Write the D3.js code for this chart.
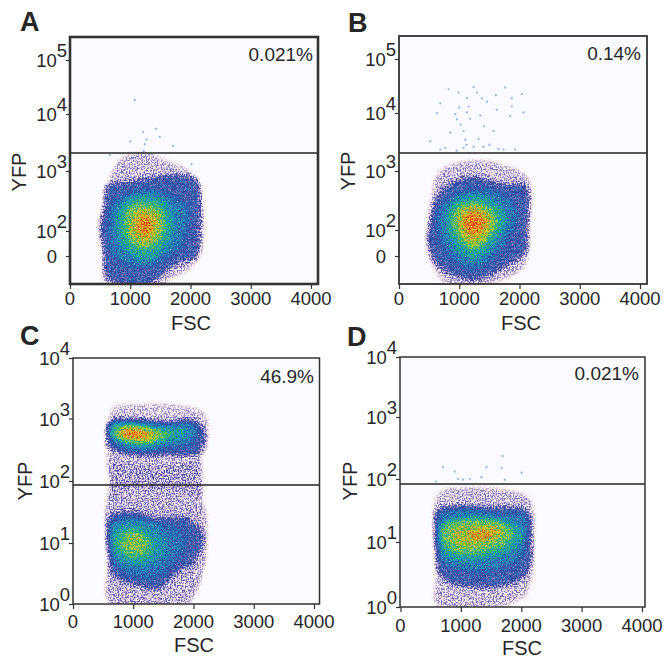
<!DOCTYPE html>
<html>
<head>
<meta charset="utf-8">
<script src="https://cdn.jsdelivr.net/npm/d3@7"></script>
<style>
  html, body { margin: 0; padding: 0; background: #fff; }
  svg { display: block; }
  text { font-family: "Liberation Sans", Arial, sans-serif; fill: #262626; }
</style>
</head>
<body>
<div id="chart"></div>
<script>
// x axis, shared by the four plots
const fscTicks = [0, 1000, 2000, 3000, 4000];

// y axis: position in decades, and the label (base + exponent) at that position
const yTicksAB = [1.58, 2, 3, 4, 5];
const yLabelsAB = [["0", ""], ["10", "2"], ["10", "3"], ["10", "4"], ["10", "5"]];
const yTicksCD = [0, 1, 2, 3, 4];
const yLabelsCD = [["10", "0"], ["10", "1"], ["10", "2"], ["10", "3"], ["10", "4"]];

const percents = ["0.021%", "0.14%", "46.9%", "0.021%"];
const letters = ["A", "B", "C", "D"];

// density levels, one per outline of a blob
const levelsAB = [0.1, 0.3, 0.42, 0.52, 0.64, 0.76, 0.9];
const levelsCTop = [0.09, 0.3, 0.42, 0.52, 0.64, 0.76, 0.87];
const levelsBridge = [0.14];
const levelsCLow = [0.12, 0.3, 0.4, 0.48, 0.57, 0.67];
const levelsD = [0.1, 0.3, 0.42, 0.52, 0.63, 0.73, 0.83];

// each outline is [FSC, decades]
const blobA = [
  [[800,3.2],[1200,3.35],[1600,3.2],[2000,3.0],[2150,2.7],[2200,1.7],[2000,1.35],[1700,1.2],[1500,1.08],[600,1.08],[540,1.6],[500,2.1],[580,2.6]],
  [[600,2.75],[1050,2.83],[1600,2.92],[2100,2.86],[2170,2.52],[2150,1.96],[2100,1.57],[1770,1.46],[1600,1.32],[1270,1.1],[880,1.1],[600,1.24],[560,1.62],[500,2.07],[580,2.46]],
  [[750,2.5],[1200,2.68],[1650,2.6],[1950,2.4],[1950,2.05],[1800,1.7],[1600,1.55],[1250,1.38],[900,1.45],[680,1.65],[650,2.1]],
  [[880,2.48],[1240,2.6],[1600,2.48],[1720,2.15],[1620,1.75],[1240,1.52],[900,1.68],[760,2.1]],
  [[960,2.38],[1240,2.48],[1500,2.38],[1580,2.12],[1480,1.82],[1240,1.68],[1000,1.8],[900,2.1]],
  [[1060,2.3],[1240,2.36],[1430,2.3],[1490,2.1],[1410,1.88],[1240,1.8],[1080,1.88],[1000,2.1]],
  [[1150,2.2],[1240,2.24],[1320,2.2],[1340,2.08],[1300,1.98],[1230,1.92],[1160,1.98],[1130,2.08]]
];

const blobB = [
  [[650,3.0],[1200,3.2],[1800,3.1],[2150,2.9],[2170,2.0],[2100,1.4],[1700,1.15],[1300,1.08],[800,1.08],[550,1.4],[470,1.8],[520,2.5]],
  [[630,2.56],[850,2.78],[1240,2.9],[1700,2.78],[2120,2.73],[2130,2.1],[2100,1.66],[1735,1.39],[1240,1.17],[685,1.39],[490,1.72],[510,2.11]],
  [[760,2.5],[1240,2.68],[1750,2.58],[1950,2.3],[1800,1.85],[1500,1.5],[1240,1.37],[950,1.48],[680,1.85],[640,2.2]],
  [[850,2.42],[1240,2.58],[1640,2.45],[1780,2.2],[1600,1.8],[1240,1.52],[950,1.7],[780,2.05]],
  [[950,2.38],[1240,2.48],[1550,2.35],[1640,2.15],[1480,1.85],[1240,1.68],[1030,1.82],[880,2.15]],
  [[1020,2.32],[1240,2.4],[1450,2.32],[1555,2.1],[1400,1.85],[1240,1.76],[1080,1.88],[970,2.12]],
  [[1130,2.25],[1260,2.3],[1380,2.22],[1420,2.1],[1340,1.98],[1230,1.92],[1130,2.0],[1080,2.1]]
];

const blobCTop = [
  [[650,3.2],[1100,3.25],[1700,3.25],[2200,3.1],[2250,2.7],[2150,2.4],[600,2.4],[600,3.0]],
  [[600,2.95],[1000,3.0],[1500,2.95],[2000,2.98],[2180,2.8],[2100,2.45],[1700,2.42],[1300,2.4],[900,2.42],[600,2.55]],
  [[620,2.93],[1100,2.95],[1600,2.92],[1950,2.92],[2080,2.8],[1950,2.6],[1500,2.52],[1100,2.48],[700,2.58],[610,2.7]],
  [[640,2.88],[1050,2.92],[1500,2.85],[1850,2.82],[1900,2.72],[1600,2.65],[1250,2.55],[850,2.6],[640,2.72]],
  [[680,2.84],[1000,2.88],[1350,2.84],[1620,2.75],[1500,2.68],[1200,2.6],[850,2.64],[660,2.72]],
  [[800,2.84],[1050,2.86],[1300,2.8],[1420,2.72],[1200,2.64],[950,2.66],[760,2.74]],
  [[850,2.83],[1050,2.83],[1200,2.76],[1220,2.7],[1050,2.68],[880,2.7],[800,2.76]]
];

// the thin part between the two populations of C
const bridgeC = [[[600,2.5],[1300,2.5],[2050,2.5],[2150,2.0],[2100,1.6],[1300,1.6],[600,1.6],[600,2.0]]];

const blobCLow = [
  [[600,1.7],[2100,1.7],[2230,1.0],[2100,0.3],[1900,0.0],[600,0.0],[600,0.8]],
  [[600,1.42],[1000,1.5],[1400,1.4],[1900,1.4],[2150,1.1],[2000,0.7],[1700,0.5],[1400,0.25],[1100,0.3],[650,0.5],[600,0.9]],
  [[620,1.32],[1000,1.42],[1500,1.3],[1800,1.2],[1850,0.9],[1600,0.6],[1300,0.42],[800,0.55],[620,0.75]],
  [[650,1.25],[1000,1.35],[1300,1.25],[1550,1.05],[1500,0.8],[1200,0.6],[800,0.68],[640,0.9]],
  [[750,1.18],[1050,1.25],[1280,1.12],[1350,0.9],[1150,0.72],[850,0.75],[700,0.95]],
  [[850,1.1],[1050,1.16],[1200,1.03],[1200,0.88],[1020,0.82],[850,0.9]]
];

const blobD = [
  [[620,1.78],[1100,1.88],[1700,1.85],[2150,1.7],[2200,1.0],[2100,0.2],[1700,0.0],[600,0.0],[590,0.6]],
  [[600,1.5],[1000,1.58],[1500,1.55],[2100,1.5],[2170,1.1],[2120,0.55],[1800,0.35],[1300,0.3],[800,0.38],[620,0.55],[600,1.0]],
  [[640,1.4],[1100,1.52],[1600,1.45],[2070,1.4],[2080,1.0],[1950,0.72],[1300,0.55],[800,0.62],[630,0.8]],
  [[680,1.3],[1200,1.4],[1800,1.32],[2030,1.15],[1900,0.88],[1300,0.72],[800,0.75],[640,1.0]],
  [[750,1.27],[1250,1.36],[1800,1.25],[1850,1.05],[1600,0.9],[1150,0.82],[780,0.9],[680,1.08]],
  [[900,1.2],[1300,1.28],[1700,1.22],[1700,1.1],[1400,0.98],[1050,0.92],[830,1.05]],
  [[1150,1.15],[1400,1.2],[1600,1.14],[1500,1.06],[1300,1.03],[1150,1.05]]
];

// single events above the gate, [FSC, decades]
const eventsA = [[1075,4.26],[1213,3.68],[1003,3.52],[1424,3.74],[1490,3.6],[1241,3.47],[1712,3.44],[1269,3.55],[1224,3.35],[660,3.28],[1047,3.23],[2017,3.12]];
const eventsB = [[823,4.44],[989,4.38],[1238,4.48],[1608,4.33],[1873,4.27],[2039,4.35],[1762,4.47],[1127,4.28],[1293,4.38],[1376,4.27],[1459,4.21],[685,4.18],[630,4.0],[934,3.98],[961,3.89],[1155,4.12],[1127,4.01],[1348,3.96],[1414,3.77],[1873,4.12],[2066,4.01],[1845,3.95],[1624,4.06],[1072,3.69],[1099,3.54],[1238,3.42],[768,3.4],[1403,3.42],[1735,3.37],[1928,3.37],[519,3.51],[685,3.37],[1569,3.69],[1072,3.4],[1155,3.31],[851,3.66],[1000,4.1],[1020,3.8],[1180,3.9],[1320,3.55],[1500,3.45],[1650,3.38],[1120,3.45],[960,3.35]];
const eventsC = [];
const eventsD = [[704,2.19],[898,2.12],[953,2.0],[1424,2.19],[1690,2.37],[2006,2.1],[1673,2.18],[1729,1.99],[1341,2.03],[1036,1.99],[1147,2.0],[593,1.96]];

// colour table of the density
const densityPos = [0, 0.05, 0.1, 0.16, 0.24, 0.34, 0.42, 0.5, 0.58, 0.66, 0.74, 0.84, 0.93, 1];
const densityCol = ["#fcfcff", "#fbf3fa", "#e6c4e0", "#9a90cc", "#3a3f98", "#2a55a8", "#2478bc", "#1ea0c0", "#20b080", "#60c040", "#d8d820", "#f0a020", "#ee6020", "#e03020"];

// how much grain each density gets
const grainPos = [0, 0.05, 0.1, 0.3, 0.5, 0.7, 1];
const grainAmt = [0, 0.08, 0.2, 0.24, 0.2, 0.28, 0.28];

// page layout of each plot
const layout = [
  { left: 70, right: 318, top: 37, bottom: 284, x0: 70, x4: 311, yPx: [256, 231, 171, 114, 60], frame: 2.6,
    gatePx: 153, letter: [20, 31], pct: [313, 60.5], yfp: [26, 172], fsc: [191, 330], tickY: 305 },
  { left: 399, right: 647, top: 36, bottom: 284, x0: 399, x4: 640, yPx: [256, 230, 171, 113, 59], frame: 1.8,
    gatePx: 153, letter: [348, 32], pct: [641, 60], yfp: [355, 171], fsc: [521, 330], tickY: 305 },
  { left: 73, right: 319.5, top: 358, bottom: 604, x0: 73, x4: 314, yPx: [604, 543, 481, 418.5, 358], frame: 1.5,
    gatePx: 485, letter: [20, 345], pct: [314, 383], yfp: [32, 481], fsc: [194, 652], tickY: 628 },
  { left: 400, right: 645, top: 357, bottom: 607, x0: 400.5, x4: 642, yPx: [607, 542, 479, 417, 357], frame: 1.5,
    gatePx: 484, letter: [347, 346], pct: [639, 380], yfp: [357, 481], fsc: [522, 654.5], tickY: 632 }
];

const plots = [
  { ticks: yTicksAB, labels: yLabelsAB, blobs: [[blobA, levelsAB]], events: eventsA },
  { ticks: yTicksAB, labels: yLabelsAB, blobs: [[blobB, levelsAB]], events: eventsB },
  { ticks: yTicksCD, labels: yLabelsCD, blobs: [[bridgeC, levelsBridge], [blobCTop, levelsCTop], [blobCLow, levelsCLow]], events: eventsC },
  { ticks: yTicksCD, labels: yLabelsCD, blobs: [[blobD, levelsD]], events: eventsD }
];

const svg = d3.select("#chart").append("svg").attr("width", 664).attr("height", 659);
const defs = svg.append("defs");

// sample the colour table for the filter
const densityScale = d3.scaleLinear().domain(densityPos).range(densityCol);
const table = d3.range(0, 41).map(i => d3.rgb(densityScale(i / 40)));
const tableOf = ch => table.map(c => (c[ch] / 255).toFixed(3)).join(" ");

const grainScale = d3.scaleLinear().domain(grainPos).range(grainAmt);
const inputs = d3.range(0, 41).map(i => i / 40);
const ampTable = inputs.map(b => grainScale(b).toFixed(3)).join(" ");
const baseTable = inputs.map(b => Math.max(0, b - grainScale(b) / 2).toFixed(3)).join(" ");

const allChannels = "1 0 0 0 0  1 0 0 0 0  1 0 0 0 0  0 0 0 0 1";

plots.forEach((p, i) => {
  const L = layout[i];
  const g = svg.append("g");

  const x = d3.scaleLinear().domain([0, 4000]).range([L.x0, L.x4]);

  // decades are not evenly spread on these axes, so go through the ticks
  const step = (L.yPx[1] - L.yPx[2]) / (p.ticks[2] - p.ticks[1]);
  const yBottom = p.ticks[0] - (L.bottom - L.yPx[0]) / step;
  const yTop = p.ticks[4] + (L.yPx[4] - L.top) / step;
  const y = d3.scaleLinear()
    .domain([yBottom, ...p.ticks, yTop])
    .range([L.bottom, ...L.yPx, L.top]);

  const w = L.right - L.left, h = L.bottom - L.top;

  const clipId = "clip" + i, filtId = "dens" + i;
  defs.append("clipPath").attr("id", clipId).append("rect")
    .attr("x", L.left).attr("y", L.top).attr("width", w).attr("height", h);

  const f = defs.append("filter").attr("id", filtId)
    .attr("filterUnits", "userSpaceOnUse")
    .attr("x", L.left).attr("y", L.top).attr("width", w).attr("height", h)
    .attr("color-interpolation-filters", "sRGB");
  f.append("feGaussianBlur").attr("in", "SourceGraphic").attr("stdDeviation", 2.6).attr("result", "b0");
  f.append("feColorMatrix").attr("in", "b0").attr("type", "matrix")
    .attr("values", allChannels).attr("result", "b");

  const addTable = (values, result) => {
    const c = f.append("feComponentTransfer").attr("in", "b").attr("result", result);
    ["feFuncR", "feFuncG", "feFuncB"].forEach(fn =>
      c.append(fn).attr("type", "table").attr("tableValues", values));
  };
  addTable(baseTable, "base");
  addTable(ampTable, "amp");

  f.append("feTurbulence").attr("type", "fractalNoise").attr("baseFrequency", 0.75)
    .attr("numOctaves", 2).attr("seed", 3 + i * 5).attr("result", "t");
  f.append("feColorMatrix").attr("in", "t").attr("type", "matrix")
    .attr("values", allChannels).attr("result", "t1");
  const st = f.append("feComponentTransfer").attr("in", "t1").attr("result", "n");
  ["feFuncR", "feFuncG", "feFuncB"].forEach(fn =>
    st.append(fn).attr("type", "linear").attr("slope", 4).attr("intercept", -1.5));

  f.append("feComposite").attr("in", "amp").attr("in2", "n").attr("operator", "arithmetic")
    .attr("k1", 1).attr("k2", 0).attr("k3", 0).attr("k4", 0).attr("result", "grain");
  f.append("feComposite").attr("in", "base").attr("in2", "grain").attr("operator", "arithmetic")
    .attr("k1", 0).attr("k2", 1).attr("k3", 1).attr("k4", 0).attr("result", "m");
  f.append("feGaussianBlur").attr("in", "m").attr("stdDeviation", 0.45).attr("result", "s");
  f.append("feColorMatrix").attr("in", "s").attr("type", "matrix")
    .attr("values", allChannels).attr("result", "g");
  const ct = f.append("feComponentTransfer").attr("in", "g");
  ct.append("feFuncR").attr("type", "table").attr("tableValues", tableOf("r"));
  ct.append("feFuncG").attr("type", "table").attr("tableValues", tableOf("g"));
  ct.append("feFuncB").attr("type", "table").attr("tableValues", tableOf("b"));

  const line = d3.line().x(d => x(d[0])).y(d => y(d[1])).curve(d3.curveCatmullRomClosed);

  const clipped = g.append("g").attr("clip-path", `url(#${clipId})`);
  const dens = clipped.append("g").attr("filter", `url(#${filtId})`);
  // black is zero density, keeps the whole plot inside the filter
  dens.append("rect").attr("x", L.left - 10).attr("y", L.top - 10)
    .attr("width", w + 20).attr("height", h + 20).attr("fill", "#000");

  p.blobs.forEach(([blob, lv]) => {
    dens.append("g").selectAll("path").data(blob).enter().append("path")
      .attr("d", line)
      .attr("fill", (d, k) => {
        const v = Math.round(lv[k] * 255);
        return `rgb(${v},${v},${v})`;
      });
  });

  clipped.append("g").selectAll("circle").data(p.events).enter().append("circle")
    .attr("cx", d => x(d[0])).attr("cy", d => y(d[1]))
    .attr("r", 1.1).attr("fill", "#5f97dc").attr("fill-opacity", 0.7);

  // gate line
  g.append("line").attr("x1", L.left).attr("x2", L.right)
    .attr("y1", L.gatePx).attr("y2", L.gatePx)
    .attr("stroke", "#222").attr("stroke-width", 1.3);

  // frame
  g.append("rect").attr("x", L.left).attr("y", L.top).attr("width", w).attr("height", h)
    .attr("fill", "none").attr("stroke", "#333").attr("stroke-width", L.frame);

  // axes
  const xAxis = g.append("g").attr("transform", `translate(0,${L.bottom})`)
    .call(d3.axisBottom(x).tickValues(fscTicks).tickSize(5).tickPadding(0).tickFormat(""));
  xAxis.select(".domain").remove();
  xAxis.selectAll("line").attr("stroke", "#333").attr("stroke-width", 1.2);
  xAxis.selectAll("text").remove();
  g.append("g").selectAll("text").data(fscTicks).enter().append("text")
    .attr("x", d => x(d)).attr("y", L.tickY)
    .attr("text-anchor", "middle").attr("font-size", 18.5)
    .text(d => d);

  const yAxis = g.append("g").attr("transform", `translate(${L.left},0)`)
    .call(d3.axisLeft(y).tickValues(p.ticks).tickSize(4).tickFormat(""));
  yAxis.select(".domain").remove();
  yAxis.selectAll("line").attr("stroke", "#333").attr("stroke-width", 1.2);
  yAxis.selectAll("text").remove();

  const yLab = g.append("g").selectAll("text").data(p.ticks).enter().append("text")
    .attr("x", (d, k) => L.left - (p.labels[k][1] ? 3 : 13)).attr("y", d => y(d) + 7)
    .attr("text-anchor", "end").attr("font-size", 18.5);
  yLab.append("tspan").text((d, k) => p.labels[k][0]);
  yLab.append("tspan").attr("dy", -10).text((d, k) => p.labels[k][1]);

  g.append("text").attr("x", L.letter[0]).attr("y", L.letter[1])
    .attr("font-size", 27).attr("font-weight", "bold").attr("fill", "#111").text(letters[i]);
  g.append("text").attr("x", L.pct[0]).attr("y", L.pct[1])
    .attr("text-anchor", "end").attr("font-size", 19).text(percents[i]);
  g.append("text").attr("x", L.fsc[0]).attr("y", L.fsc[1])
    .attr("text-anchor", "middle").attr("font-size", 20).text("FSC");
  g.append("text").attr("transform", `translate(${L.yfp[0]},${L.yfp[1]}) rotate(-90)`)
    .attr("text-anchor", "middle").attr("font-size", 20).text("YFP");
});
</script>
</body>
</html>
